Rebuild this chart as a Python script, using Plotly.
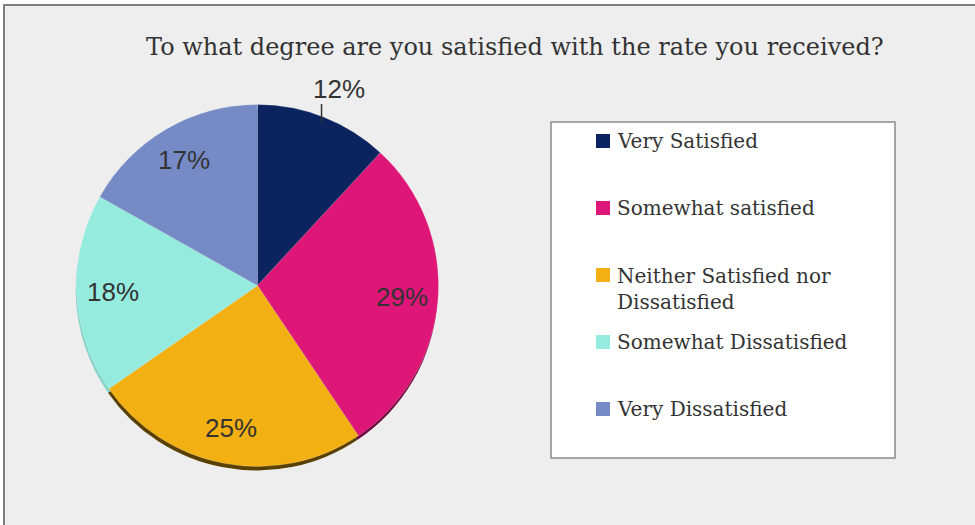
import math
import textwrap
import plotly.graph_objects as go

# Survey responses (percent of respondents)
categories = [
    "Very Satisfied",
    "Somewhat satisfied",
    "Neither Satisfied nor Dissatisfied",
    "Somewhat Dissatisfied",
    "Very Dissatisfied",
]
values = [12, 29, 25, 18, 17]
colors = ["#0b2460", "#de1677", "#f2b012", "#96ebdf", "#768bc6"]
shadow_colors = ["#061232", "#6e0b3c", "#5a4000", "#86d2c8", "#5f6f9e"]
title_text = "To what degree are you satisfied with the rate you received?"

W, H = 975, 525
CX, CY, R = 257.5, 285.5, 181.0   # pie centre and radius in pixels


def px(x):
    return x / W


def py(y):
    return 1 - y / H


def pie_domain(dx=0.0, dy=0.0):
    return dict(
        x=[px(CX + dx - R), px(CX + dx + R)],
        y=[py(CY + dy + R), py(CY + dy - R)],
    )


fig = go.Figure()

# soft drop shadow under the pie
fig.add_trace(go.Pie(
    labels=categories, values=values, sort=False, direction="clockwise",
    rotation=0, domain=pie_domain(-0.8, 4),
    marker=dict(colors=shadow_colors, line=dict(width=0)),
    textinfo="none", hoverinfo="skip", showlegend=False,
))

fig.add_trace(go.Pie(
    labels=categories, values=values, sort=False, direction="clockwise",
    rotation=0, domain=pie_domain(),
    marker=dict(colors=colors, line=dict(color="rgba(255,255,255,0.35)", width=0.6)),
    textinfo="none", showlegend=False,
))

shapes = [
    # chart area frame
    dict(type="rect", xref="paper", yref="paper", layer="below",
         x0=px(4), x1=px(W + 10), y0=py(H + 10), y1=py(5),
         fillcolor="#eeeeee", line=dict(color="#7f7f7f", width=2)),
]
annotations = [
    dict(text=title_text, x=px(515), y=py(47), xref="paper", yref="paper",
         xanchor="center", yanchor="middle", showarrow=False,
         font=dict(family="DejaVu Serif", size=24, color="#333333")),
]

# percentage labels placed at each slice's mid angle
total = sum(values)
label_font = dict(family="Liberation Sans", size=26, color="#333333")
cum = 0.0
for i, v in enumerate(values):
    mid = (cum + v / 2) / total * 2 * math.pi
    cum += v
    s, c = math.sin(mid), math.cos(mid)
    if i == 0:
        # small slice: label outside with a leader line
        lx, ly = CX + 0.97 * R * s, CY - 0.97 * R * c
        top = ly - 18
        shapes.append(dict(type="line", xref="paper", yref="paper",
                           x0=px(lx), x1=px(lx), y0=py(ly), y1=py(top),
                           line=dict(color="#333333", width=1.5)))
        annotations.append(dict(text=f"{v}%", x=px(lx + 17), y=py(top - 15),
                                xref="paper", yref="paper", showarrow=False,
                                xanchor="center", yanchor="middle", font=label_font))
    else:
        tx, ty = CX + 0.8 * R * s, CY - 0.8 * R * c
        annotations.append(dict(text=f"{v}%", x=px(tx), y=py(ty),
                                xref="paper", yref="paper", showarrow=False,
                                xanchor="center", yanchor="middle", font=label_font))

# legend box
LX0, LX1, LY0, LY1 = 551, 895, 122, 458
shapes.append(dict(type="rect", xref="paper", yref="paper",
                   x0=px(LX0), x1=px(LX1), y0=py(LY1), y1=py(LY0),
                   fillcolor="#ffffff", line=dict(color="#8a8a8a", width=1.5)))
legend_font = dict(family="DejaVu Serif", size=20, color="#333333")
for i, (name, col) in enumerate(zip(categories, colors)):
    yc = 141 + i * 67
    shapes.append(dict(type="rect", xref="paper", yref="paper",
                       x0=px(596), x1=px(610), y0=py(yc + 7), y1=py(yc - 7),
                       fillcolor=col, line=dict(width=0)))
    lines = textwrap.wrap(name, 22)
    ymid = yc + (len(lines) - 1) * 27 / 2
    annotations.append(dict(text="<br>".join(lines), x=px(615), y=py(ymid),
                            xref="paper", yref="paper", showarrow=False,
                            xanchor="left", yanchor="middle", align="left",
                            font=legend_font))

fig.update_layout(
    width=W, height=H,
    margin=dict(l=0, r=0, t=0, b=0),
    paper_bgcolor="#ffffff",
    plot_bgcolor="#ffffff",
    shapes=shapes,
    annotations=annotations,
)

fig.write_html("out.html")
